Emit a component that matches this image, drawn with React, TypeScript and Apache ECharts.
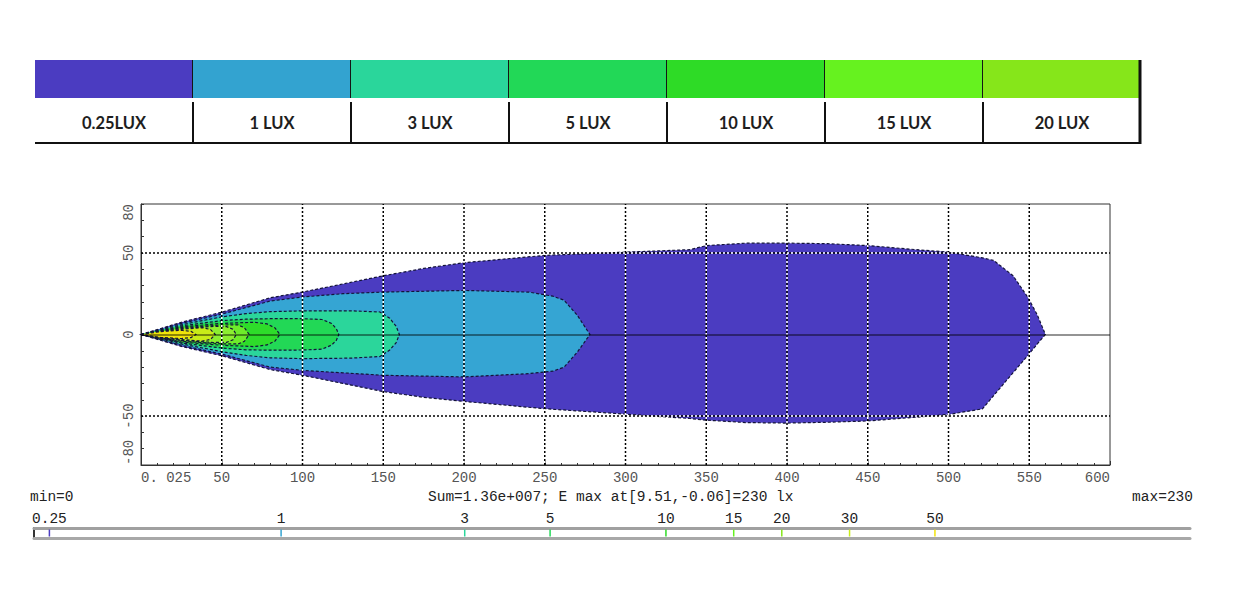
import React, { useEffect, useRef } from "react";
import * as echarts from "echarts";

// ---------- Legend (top band) ----------
const legendLabels = ["0.25LUX", "1 LUX", "3 LUX", "5 LUX", "10 LUX", "15 LUX", "20 LUX"];
const legendColors = ["#4B3CC1", "#33A3D0", "#2AD69B", "#22D857", "#2EDB26", "#66F21F", "#86E61A"];

// ---------- Bottom log colour scale ----------
const scaleValues = [0.25, 1, 3, 5, 10, 15, 20, 30, 50];
const scaleLabels = ["0.25", "1", "3", "5", "10", "15", "20", "30", "50"];
const scaleColors = ["#4B3CC1", "#33A3D0", "#2AD69B", "#22D857", "#2EDB26", "#66F21F", "#86E61A", "#C8EC18", "#F2E40A"];

// ---------- Axis ticks ----------
const xTickValues = [0, 50, 100, 150, 200, 250, 300, 350, 400, 450, 500, 550, 600];
const xTickLabels = ["0. 025", "50", "100", "150", "200", "250", "300", "350", "400", "450", "500", "550", "600"];
const yLabelValues = [-80, -50, 0, 50, 80];
const yLabelTexts = ["-80", "-50", "0", "50", "80"];
const gridX = [50, 100, 150, 200, 250, 300, 350, 400, 450, 500, 550];
const gridY = [-50, 50];

// ---------- Iso-lux contours (distance m, lateral m) ----------
const c025X = [0, 25, 50, 80, 100, 125, 150, 175, 200, 250, 300, 340, 350, 375, 400, 425, 450, 480, 500, 521, 528, 540, 549, 555, 560];
const c025Top = [0, 7.5, 13.7, 22.5, 26, 31, 36, 40.5, 44, 48.5, 50.5, 52, 54.5, 56, 56, 55.7, 54.5, 52, 50.5, 47, 45.4, 36, 23, 12, 0];
const c025Bot = [0, -7.3, -13, -21.5, -25, -30, -35, -38.5, -41, -45.5, -48.8, -51.5, -52.5, -54, -54.3, -53.8, -53, -50.7, -49, -45.6, -37.4, -23.4, -13, -5.8, 0];

const c1X = [0, 25, 50, 80, 100, 125, 150, 200, 240, 255, 262, 270, 278];
const c1Top = [0, 6.8, 12.5, 20.5, 23, 25, 26, 27, 26, 23.5, 21, 12, 0];
const c1Bot = [0, -6.6, -12, -20, -22, -23.5, -25, -26, -24, -22.5, -20, -11, 0];

const c3X = [0, 25, 50, 65, 80, 100, 130, 148, 154, 158, 160];
const c3Top = [0, 6.0, 10.8, 12.8, 14, 14.5, 14.5, 13.8, 10, 5, 0];
const c3Bot = [0, -5.8, -10.5, -12.8, -14.3, -14.8, -14.5, -13.5, -9.5, -5, 0];

const c5X = [0, 25, 50, 65, 80, 100, 112, 118, 121, 122.5];
const c5Top = [0, 5.3, 8.5, 9.4, 9.7, 9.7, 9.2, 6.8, 3.5, 0];
const c5Bot = [0, -5.2, -8.3, -9.4, -9.6, -9.5, -9, -6.5, -3.5, 0];

const c10X = [0, 25, 50, 70, 78, 83, 86];
const c10Top = [0, 4.7, 6.8, 7.5, 6.5, 4, 0];
const c10Bot = [0, -4.6, -6.6, -7.4, -6.4, -4, 0];

const c15X = [0, 25, 50, 60, 64, 67];
const c15Top = [0, 4.2, 5.8, 5.9, 4.2, 0];
const c15Bot = [0, -4.1, -5.7, -5.8, -4.2, 0];

const c20X = [0, 25, 45, 53, 57, 59];
const c20Top = [0, 3.7, 5.0, 4.8, 3.2, 0];
const c20Bot = [0, -3.6, -4.9, -4.8, -3.2, 0];

const c30X = [0, 25, 38, 43, 46];
const c30Top = [0, 3.2, 4.2, 3.1, 0];
const c30Bot = [0, -3.1, -4.1, -3.0, 0];

const c50X = [0, 12, 25, 31, 34];
const c50Top = [0, 1.8, 2.6, 1.9, 0];
const c50Bot = [0, -1.8, -2.5, -1.9, 0];

const contours = [
  { x: c025X, top: c025Top, bot: c025Bot },
  { x: c1X, top: c1Top, bot: c1Bot },
  { x: c3X, top: c3Top, bot: c3Bot },
  { x: c5X, top: c5Top, bot: c5Bot },
  { x: c10X, top: c10Top, bot: c10Bot },
  { x: c15X, top: c15Top, bot: c15Bot },
  { x: c20X, top: c20Top, bot: c20Bot },
  { x: c30X, top: c30Top, bot: c30Bot },
  { x: c50X, top: c50Top, bot: c50Bot },
];
const contourColors = ["#4B3CC1", "#35A5D3", "#2BD69B", "#22D856", "#2EDC2A", "#6EEC2A", "#8CEE30", "#C8EC18", "#F2E40A"];

const X_MIN = 0, X_MAX = 600, Y_MIN = -80, Y_MAX = 80;
const MONO = "'Liberation Mono', monospace";

export default function App() {
  const ref = useRef<HTMLDivElement | null>(null);

  useEffect(() => {
    if (!ref.current) return;
    const chart = echarts.init(ref.current, undefined, { renderer: "svg" });

    const option: any = {
      animation: false,
      backgroundColor: "#ffffff",
      grid: [
        { left: 141, top: 204, width: 969, height: 261, show: true, borderColor: "#333", borderWidth: 1, backgroundColor: "transparent" },
        { left: 35, top: 60, width: 1106, height: 84 },
        { left: 34, top: 528, width: 1156, height: 10 },
      ],
      xAxis: [
        {
          type: "value", gridIndex: 0, min: X_MIN, max: X_MAX, interval: 50, position: "bottom",
          axisLine: { show: true, onZero: false, lineStyle: { color: "#333" } },
          axisTick: { show: true, inside: true, length: 4, lineStyle: { color: "#333" } },
          minorTick: { show: true, splitNumber: 5, length: 2, lineStyle: { color: "#333" } },
          splitLine: { show: false },
          axisLabel: {
            formatter: (v: number) => { const k = xTickValues.indexOf(v); return k >= 0 ? xTickLabels[k] : ""; },
            color: "#555", fontFamily: MONO, fontSize: 14, margin: 6,
            alignMinLabel: "left", alignMaxLabel: "right",
          },
        },
        { type: "category", gridIndex: 1, data: legendLabels, show: false },
        {
          type: "log", gridIndex: 2, min: 0.228, max: 230, position: "bottom",
          axisLine: { show: true, onZero: false, lineStyle: { color: "#a8a8a8", width: 3 } },
          axisTick: { show: false }, axisLabel: { show: false }, splitLine: { show: false },
        },
        {
          type: "log", gridIndex: 2, min: 0.228, max: 230, position: "top",
          axisLine: { show: true, onZero: false, lineStyle: { color: "#a0a0a0", width: 3 } },
          axisTick: { show: false }, axisLabel: { show: false }, splitLine: { show: false },
        },
      ],
      yAxis: [
        {
          type: "value", gridIndex: 0, min: Y_MIN, max: Y_MAX, interval: 10, position: "left",
          axisLine: { show: true, onZero: false, lineStyle: { color: "#333" } },
          axisTick: { show: true, inside: true, length: 3, lineStyle: { color: "#333" } },
          splitLine: { show: false },
          axisLabel: {
            rotate: 90,
            formatter: (v: number) => { const k = yLabelValues.indexOf(v); return k >= 0 ? yLabelTexts[k] : ""; },
            color: "#555", fontFamily: MONO, fontSize: 14, margin: 5,
            alignMinLabel: "left", alignMaxLabel: "right",
          },
        },
        { type: "value", gridIndex: 1, min: 0, max: 1, show: false },
        {
          type: "value", gridIndex: 2, min: 0, max: 1,
          axisLine: { show: true, onZero: false, lineStyle: { color: "#333", width: 2 } },
          axisTick: { show: false }, axisLabel: { show: false }, splitLine: { show: false },
        },
      ],
      series: [
        {
          type: "custom", name: "contours", xAxisIndex: 0, yAxisIndex: 0, z: 2,
          data: contours.map((_, i) => [i]),
          encode: { x: -1, y: -1 },
          renderItem: (params: any, api: any) => {
            const c = contours[params.dataIndex];
            const pts: number[][] = [];
            for (let k = 0; k < c.x.length; k++) pts.push(api.coord([c.x[k], c.top[k]]));
            for (let k = c.x.length - 1; k >= 0; k--) pts.push(api.coord([c.x[k], c.bot[k]]));
            return {
              type: "polygon",
              shape: { points: pts },
              style: { fill: contourColors[params.dataIndex], stroke: "#14143a", lineWidth: 1.2, lineDash: [3, 2] },
            };
          },
        },
        {
          type: "custom", name: "grid", xAxisIndex: 0, yAxisIndex: 0, z: 3,
          data: [...gridX, ...gridY].map((_, i) => [i]),
          encode: { x: -1, y: -1 },
          renderItem: (params: any, api: any) => {
            const i = params.dataIndex;
            let a: number[], b: number[];
            if (i < gridX.length) {
              a = api.coord([gridX[i], Y_MIN]);
              b = api.coord([gridX[i], Y_MAX]);
            } else {
              const y = gridY[i - gridX.length];
              a = api.coord([X_MIN, y]);
              b = api.coord([X_MAX, y]);
            }
            const shape = { x1: a[0], y1: a[1], x2: b[0], y2: b[1] };
            return {
              type: "group",
              children: [
                { type: "line", shape, style: { stroke: "#ffffff", lineWidth: 1.5, lineDash: [2, 2], lineDashOffset: 2 } },
                { type: "line", shape, style: { stroke: "#000000", lineWidth: 1.5, lineDash: [2, 2] } },
              ],
            };
          },
        },
        {
          type: "custom", name: "centre", xAxisIndex: 0, yAxisIndex: 0, z: 4,
          data: [[0]],
          encode: { x: -1, y: -1 },
          renderItem: (params: any, api: any) => {
            const a = api.coord([X_MIN, 0]);
            const b = api.coord([X_MAX, 0]);
            const y = Math.round(a[1]);
            return { type: "line", shape: { x1: a[0], y1: y, x2: b[0], y2: y }, style: { stroke: "rgba(0,0,0,0.42)", lineWidth: 2 } };
          },
        },
        {
          type: "custom", name: "legend", xAxisIndex: 1, yAxisIndex: 1, z: 2,
          data: legendLabels.map((_, i) => [i, 0]),
          renderItem: (params: any, api: any) => {
            const i = params.dataIndex;
            const t = api.coord([i, 1]);
            const bt = api.coord([i, 0]);
            const w = api.size([1, 0])[0];
            const x0 = t[0] - w / 2, x1 = t[0] + w / 2, yT = t[1], yB = bt[1];
            const colorH = 38;
            const last = i === legendLabels.length - 1;
            const children: any[] = [
              { type: "rect", shape: { x: x0, y: yT, width: w, height: colorH }, style: { fill: legendColors[i] } },
              { type: "line", shape: { x1: x0, y1: yB - 1, x2: x1, y2: yB - 1 }, style: { stroke: "#111", lineWidth: 2 } },
              {
                type: "text",
                style: {
                  text: legendLabels[i], x: t[0], y: yT + 63,
                  fill: "#1e1e1e", fontFamily: "Lato, 'Open Sans', sans-serif", fontWeight: "bold", fontSize: 16.5,
                  align: "center", verticalAlign: "middle", textAlign: "center", textVerticalAlign: "middle",
                },
              },
            ];
            if (last) {
              children.push({ type: "line", shape: { x1: x1 - 1, y1: yT, x2: x1 - 1, y2: yB }, style: { stroke: "#111", lineWidth: 3 } });
            } else {
              children.push({ type: "line", shape: { x1: x1, y1: yT, x2: x1, y2: yT + colorH }, style: { stroke: "#151515", lineWidth: 2 } });
              children.push({ type: "line", shape: { x1: x1, y1: yT + colorH + 4, x2: x1, y2: yB }, style: { stroke: "#111", lineWidth: 2 } });
            }
            return { type: "group", children };
          },
        },
        {
          type: "custom", name: "scale", xAxisIndex: 2, yAxisIndex: 2, z: 3,
          data: scaleValues.map((v) => [v, 0]),
          renderItem: (params: any, api: any) => {
            const i = params.dataIndex;
            const v = scaleValues[i];
            const t = api.coord([v, 1]);
            const b = api.coord([v, 0]);
            return {
              type: "group",
              children: [
                { type: "line", shape: { x1: t[0], y1: t[1] + 1.5, x2: t[0], y2: b[1] - 1.5 }, style: { stroke: scaleColors[i], lineWidth: 1.5 } },
                {
                  type: "text",
                  style: {
                    text: scaleLabels[i], x: t[0], y: t[1] - 9,
                    fill: "#222", fontFamily: MONO, fontSize: 14.5,
                    align: "center", verticalAlign: "middle", textAlign: "center", textVerticalAlign: "middle",
                  },
                },
              ],
            };
          },
        },
      ],
      graphic: [
        { type: "text", left: 30, top: 489, style: { text: "min=0", fill: "#222", font: `14.5px ${MONO}` } },
        { type: "text", left: 428, top: 489, style: { text: "Sum=1.36e+007; E max at[9.51,-0.06]=230 lx", fill: "#222", font: `14.5px ${MONO}` } },
        { type: "text", right: 51, top: 489, style: { text: "max=230", fill: "#222", font: `14.5px ${MONO}` } },
      ],
    };

    chart.setOption(option);
    return () => chart.dispose();
  }, []);

  return (
    <div
      ref={ref}
      style={{ position: "absolute", left: 0, top: 0, width: 1244, height: 606, background: "#fff" }}
    />
  );
}
